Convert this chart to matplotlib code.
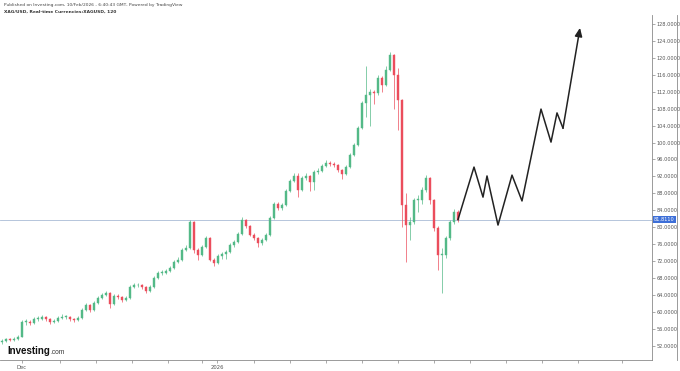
import matplotlib
matplotlib.use("Agg")
import matplotlib.pyplot as plt
import matplotlib.transforms as mtransforms
import numpy as np

# 収集したローソク足データ (終値・高値・安値)
closes = [53.1, 53.6, 53.4, 53.6, 54.1, 57.6, 57.6, 57.4, 58.3, 58.3,
          58.8, 58.3, 57.6, 57.8, 58.6, 58.8, 58.8, 58.3, 58.1, 58.6,
          60.4, 61.6, 60.4, 62.1, 63.3, 64.0, 64.5, 61.9, 63.7, 63.5,
          62.8, 63.3, 65.9, 66.3, 66.3, 65.9, 64.9, 65.9, 68.0, 69.2,
          69.2, 69.7, 70.4, 71.8, 72.3, 74.6, 75.1, 81.2, 74.6, 73.4,
          75.3, 77.4, 72.3, 71.5, 73.2, 73.7, 74.1, 75.8, 76.5, 78.4,
          81.7, 80.3, 78.2, 77.4, 76.3, 77.0, 78.2, 82.2, 85.5, 84.5,
          85.2, 88.6, 90.9, 92.1, 88.8, 91.6, 92.1, 90.7, 93.0, 93.3,
          94.5, 95.2, 94.9, 94.7, 93.5, 92.6, 94.2, 97.1, 99.4, 103.4,
          109.3, 111.2, 111.9, 111.7, 115.2, 113.6, 117.1, 120.7, 116.0, 110.1,
          85.2, 80.5, 81.2, 86.4, 86.4, 88.8, 91.6, 86.4, 79.8, 73.4,
          73.4, 77.4, 81.2, 83.6, 81.811]
highs = [53.5, 53.9, 53.9, 54.0, 54.6, 58.0, 58.2, 58.0, 58.7, 58.9,
         59.3, 59.0, 58.5, 58.3, 59.0, 59.4, 59.3, 59.0, 58.6, 59.0,
         60.8, 62.2, 61.9, 62.5, 63.8, 64.5, 65.0, 64.7, 64.1, 64.2,
         63.8, 63.7, 66.4, 66.9, 66.8, 66.6, 66.0, 66.3, 68.4, 69.7,
         69.8, 70.1, 70.9, 72.2, 72.9, 75.0, 75.8, 81.8, 81.4, 75.0,
         75.8, 78.0, 77.6, 72.7, 73.6, 74.2, 74.7, 76.2, 77.0, 78.9,
         82.3, 82.0, 80.6, 78.6, 77.7, 77.5, 78.6, 82.6, 86.0, 86.0,
         85.8, 89.0, 91.4, 92.7, 92.8, 92.1, 92.7, 92.3, 93.5, 93.9,
         95.0, 95.8, 95.6, 95.3, 95.0, 93.8, 94.6, 97.5, 99.9, 103.9,
         109.8, 118.0, 112.6, 112.5, 116.0, 115.6, 118.1, 121.4, 121.0, 117.6,
         110.4, 88.0, 82.5, 87.0, 87.5, 89.5, 92.3, 91.8, 86.7, 80.2,
         75.0, 78.0, 81.8, 84.3, 84.0]
lows = [52.5, 52.9, 53.0, 53.1, 53.4, 54.0, 57.0, 56.9, 57.2, 57.8,
        58.1, 57.9, 57.2, 57.3, 57.5, 58.2, 58.3, 57.9, 57.7, 57.8,
        58.4, 60.2, 60.0, 60.2, 61.8, 63.0, 63.8, 60.9, 61.6, 63.0,
        62.3, 62.5, 63.1, 65.6, 65.8, 65.4, 64.4, 64.6, 65.7, 67.8,
        68.7, 68.9, 69.4, 70.1, 71.5, 72.0, 74.3, 74.9, 74.0, 72.2,
        73.1, 75.0, 71.9, 70.8, 71.2, 72.6, 72.4, 73.9, 75.4, 76.2,
        78.1, 79.8, 77.8, 76.9, 75.3, 75.9, 76.7, 77.9, 81.9, 84.0,
        84.1, 84.9, 88.3, 90.6, 87.1, 88.5, 91.2, 88.5, 88.8, 92.6,
        93.0, 94.2, 94.4, 94.2, 93.0, 91.4, 92.3, 93.9, 96.8, 99.1,
        103.1, 106.0, 103.8, 109.2, 111.3, 112.0, 113.3, 116.8, 108.0, 103.0,
        80.0, 71.8, 77.0, 80.8, 83.6, 85.5, 88.4, 85.5, 79.0, 70.0,
        64.4, 72.8, 77.0, 80.8, 81.3]
first_open = 52.8

# 予想ライン (バー番号, 価格)
proj_x = [114, 118, 120.25, 121.25, 124, 127.5, 130, 134.75, 137.25, 138.75, 140.25, 144.5]
proj_y = [81.8, 94.2, 87.1, 92.1, 80.5, 92.3, 86.2, 107.9, 100.1, 107.0, 103.4, 127.1]

last_price = 81.811
y_ticks = list(range(52, 129, 4))
x_minor = [14.5, 23.5, 32.5, 41.5, 50.0, 63.0, 72.0, 81.0, 90.0, 99.0, 108.0, 117.0, 126.0, 135.0, 144.0, 155.0]
x_major = [5, 53.75]
x_major_labels = ["Dec", "2026"]

fig = plt.figure(figsize=(6.8, 3.71), dpi=100)
ax = fig.add_axes([0, 11 / 371, 652 / 680, 345 / 371])

opens = [first_open] + closes[:-1]
idx = np.arange(len(closes))
up_col = "#53b987"
dn_col = "#eb4d5c"
cols = [up_col if c >= o else dn_col for o, c in zip(opens, closes)]

ax.vlines(idx, lows, highs, colors=cols, linewidth=0.5, zorder=3)
bottoms = [min(o, c) for o, c in zip(opens, closes)]
heights = [max(abs(c - o), 0.15) for o, c in zip(opens, closes)]
ax.bar(idx, heights, bottom=bottoms, width=0.35, color=cols, edgecolor=cols,
       linewidth=0.3, zorder=4)

# 現在値ライン
ax.axhline(last_price, color="#a9bcd6", linewidth=0.6, zorder=1)

# 予想ライン
ax.plot(proj_x[:-1], proj_y[:-1], color="#222222", linewidth=1.1, zorder=5)
ax.annotate("", xy=(proj_x[-1], proj_y[-1]), xytext=(proj_x[-2], proj_y[-2]),
            arrowprops=dict(arrowstyle="-|>,head_length=0.5,head_width=0.22",
                            color="#222222", lw=1.1, shrinkA=0, shrinkB=0),
            zorder=5)

ax.set_xlim(-0.5, 162.5)
ax.set_ylim(48.62, 130.13)

ax.yaxis.tick_right()
ax.set_yticks(y_ticks)
ax.set_yticklabels([f"{v:.4f}" for v in y_ticks])
ax.tick_params(axis="y", labelsize=3.6, labelcolor="#555555", length=2,
               width=0.5, color="#888888", pad=1)
ax.set_xticks(x_major)
ax.set_xticklabels(x_major_labels)
ax.set_xticks(x_minor, minor=True)
ax.tick_params(axis="x", which="both", labelsize=3.8, labelcolor="#555555",
               length=2, width=0.5, color="#888888", pad=1.5)

for side in ["top", "left"]:
    ax.spines[side].set_visible(False)
for side in ["right", "bottom"]:
    ax.spines[side].set_color("#8a8a8a")
    ax.spines[side].set_linewidth(0.6)

# 現在値ラベル
trans = mtransforms.blended_transform_factory(ax.transAxes, ax.transData)
ax.text(1.003, last_price, "81.8110", transform=trans, fontsize=3.6,
        color="white", va="center", ha="left",
        bbox=dict(boxstyle="square,pad=0.25", fc="#3d6fd8", ec="none"))

# 右側の枠線
fig.add_artist(plt.Line2D([677 / 680, 677 / 680], [11 / 371, 356 / 371],
                          color="#8a8a8a", linewidth=0.6))

# ヘッダー
fig.text(4 / 680, 1 - 5 / 371,
         "Published on Investing.com, 10/Feb/2026 - 6:40:43 GMT, Powered by TradingView",
         fontsize=3.2, color="#444444", va="center")
fig.text(4 / 680, 1 - 12 / 371, "XAG/USD, Real-time Currencies:XAGUSD, 120",
         fontsize=3.2, color="#333333", va="center", fontweight="bold")

# ロゴ
logo = fig.text(7 / 680, 1 - 351 / 371, "Investing", fontsize=7,
                fontweight="bold", family="Liberation Sans", color="#111111",
                va="center")
fig.canvas.draw()
bb = logo.get_window_extent(fig.canvas.get_renderer())
fig.text((bb.x1 + 1) / 680, 1 - 352 / 371, ".com", fontsize=4.8,
         family="Liberation Sans", color="#333333", va="center")

fig.savefig("out.png", dpi=100)
